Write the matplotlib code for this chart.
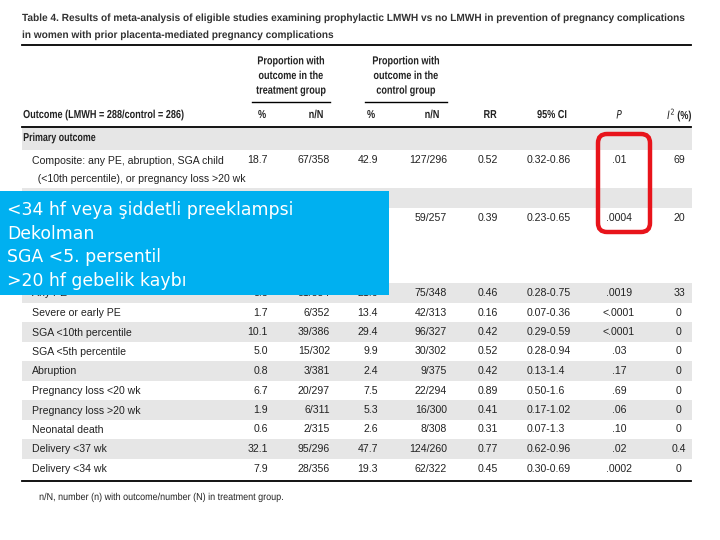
import matplotlib.pyplot as plt
from matplotlib import font_manager, patheffects
from matplotlib.patches import Rectangle, FancyBboxPatch
from matplotlib.transforms import Affine2D

# dar yazı tipi varsa onu kullan
names = {f.name for f in font_manager.fontManager.ttflist}
NARROW = 'Liberation Sans Narrow' if 'Liberation Sans Narrow' in names else 'Liberation Sans'


# yazıyı yatayda sıkıştırır (dar yazı tipi görünümü için)
class Squeeze(patheffects.AbstractPathEffect):
    def __init__(self, sx, anchor='left'):
        super().__init__()
        self.sx = sx
        self.anchor = anchor

    def draw_path(self, renderer, gc, tpath, affine, rgbFace=None):
        ext = tpath.get_extents()
        p = {'left': ext.x0, 'center': (ext.x0 + ext.x1) / 2, 'right': ext.x1}[self.anchor]
        t = Affine2D().translate(-p, 0).scale(self.sx, 1).translate(p, 0) + affine
        renderer.draw_path(gc, tpath, t, rgbFace)


title1 = ("Table 4. Results of meta-analysis of eligible studies examining prophylactic LMWH "
          "vs no LMWH in prevention of pregnancy complications")
title2 = "in women with prior placenta-mediated pregnancy complications"

col_headers = ["%", "n/N", "%", "n/N", "RR", "95% CI", "$P$", "$I^2$ (%)"]

# kutunun tamamen örttüğü hücreler boş bırakıldı
row_labels = [
    "Primary outcome",
    "Composite: any PE, abruption, SGA child\n  (<10th percentile), or pregnancy loss >20 wk",
    "Secondary outcomes",
    "",
    "Any PE",
    "Severe or early PE",
    "SGA <10th percentile",
    "SGA <5th percentile",
    "Abruption",
    "Pregnancy loss <20 wk",
    "Pregnancy loss >20 wk",
    "Neonatal death",
    "Delivery <37 wk",
    "Delivery <34 wk",
]
trt_pct = ["", "18.7", "", "", "8.8", "1.7", "10.1", "5.0", "0.8", "6.7", "1.9", "0.6", "32.1", "7.9"]
trt_nN = ["", "67/358", "", "", "31/354", "6/352", "39/386", "15/302", "3/381", "20/297",
          "6/311", "2/315", "95/296", "28/356"]
ctl_pct = ["", "42.9", "", "", "21.6", "13.4", "29.4", "9.9", "2.4", "7.5", "5.3", "2.6", "47.7", "19.3"]
ctl_nN = ["", "127/296", "", "59/257", "75/348", "42/313", "96/327", "30/302", "9/375", "22/294",
          "16/300", "8/308", "124/260", "62/322"]
rr = ["", "0.52", "", "0.39", "0.46", "0.16", "0.42", "0.52", "0.42", "0.89", "0.41", "0.31", "0.77", "0.45"]
ci = ["", "0.32-0.86", "", "0.23-0.65", "0.28-0.75", "0.07-0.36", "0.29-0.59", "0.28-0.94", "0.13-1.4",
      "0.50-1.6", "0.17-1.02", "0.07-1.3", "0.62-0.96", "0.30-0.69"]
p_val = ["", ".01", "", ".0004", ".0019", "<.0001", "<.0001", ".03", ".17", ".69", ".06", ".10", ".02", ".0002"]
i2 = ["", "69", "", "20", "33", "0", "0", "0", "0", "0", "0", "0", "0.4", "0"]
is_header = [True, False, True, False] + [False] * 10
row_h = [22, 38, 20, 75] + [19.5] * 10

overlay_lines = ["<34 hf veya şiddetli preeklampsi", "Dekolman", "SGA <5. persentil", ">20 hf gebelik kaybı"]
footnote = "n/N, number (n) with outcome/number (N) in treatment group."

TXT = '#222222'
GRAY = '#e6e6e6'

fig = plt.figure(figsize=(7.2, 5.4), dpi=100)
ax = fig.add_axes([0, 0, 1, 1])
ax.set_xlim(0, 720)
ax.set_ylim(540, 0)
ax.axis('off')

fs = 7.6
fb = 8.3
sq_b = 0.79
ax.text(22, 18, title1, fontsize=7.5, fontweight='bold', family=NARROW, color='#333333', va='center',
        path_effects=[Squeeze(0.97)])
ax.text(22, 35, title2, fontsize=7.5, fontweight='bold', family=NARROW, color='#333333', va='center',
        path_effects=[Squeeze(0.97)])
ax.plot([22, 691], [45, 45], color='black', lw=1.3)

# grup başlıkları
for cx, x0, x1, txt in [(291, 252, 330, "Proportion with\noutcome in the\ntreatment group"),
                        (406, 365, 447, "Proportion with\noutcome in the\ncontrol group")]:
    ax.text(cx, 76, txt, fontsize=fb, fontweight='bold', family=NARROW, color=TXT,
            ha='center', va='center', linespacing=1.3, path_effects=[Squeeze(sq_b, 'center')])
    ax.plot([x0, x1], [102, 102], color='black', lw=1)

ax.text(23, 115, "Outcome (LMWH = 288/control = 286)", fontsize=fb, fontweight='bold',
        family=NARROW, color=TXT, va='center', path_effects=[Squeeze(sq_b)])
head_x = [262, 316, 371, 432, 490, 552, 620, 680]
for x, h in zip(head_x, col_headers):
    ax.text(x, 115, h, fontsize=fb, fontweight='bold', family=NARROW, color=TXT,
            ha='center', va='center', path_effects=[Squeeze(sq_b, 'center')])
ax.plot([22, 691], [127, 127], color='black', lw=1.3)

# satırlar
y = 128
cols = [(trt_pct, 268, 'right'), (trt_nN, 330, 'right'), (ctl_pct, 378, 'right'), (ctl_nN, 447, 'right'),
        (rr, 488, 'center'), (ci, 527, 'left'), (p_val, 619, 'center'), (i2, 679, 'center')]
for i, lab in enumerate(row_labels):
    h = row_h[i]
    if i % 2 == 0:
        ax.add_patch(Rectangle((22, y), 670, h, color=GRAY, lw=0, zorder=0))
    ty = y + 10
    if is_header[i]:
        if i == 0:
            ax.text(23, ty, lab, fontsize=fb, fontweight='bold', family=NARROW, color=TXT, va='center',
                    path_effects=[Squeeze(0.77)])
    else:
        if lab:
            ax.text(32, ty - 4.5, lab, fontsize=fs, family=NARROW, color=TXT, va='top', linespacing=2.05)
        for vals, x, ha in cols:
            if vals[i]:
                ax.text(x, ty, vals[i], fontsize=fs, family=NARROW, color=TXT, ha=ha, va='center')
    y += h

ax.plot([22, 691], [481, 481], color='black', lw=1.3)
ax.text(39, 497, footnote, fontsize=fs - 0.4, family=NARROW, color=TXT, va='center',
        path_effects=[Squeeze(0.9)])

# mavi kutu ve kırmızı çerçeve
ax.add_patch(Rectangle((0, 191), 389, 104, color='#00b0f0', lw=0, zorder=5))
for k, line in enumerate(overlay_lines):
    ax.text(7, 210 + k * 23.6, line, fontsize=12.4, family='DejaVu Sans', color='white',
            va='center', zorder=6)
ax.add_patch(FancyBboxPatch((598, 134), 52, 98, boxstyle='round,pad=0,rounding_size=9',
                            fill=False, ec='#e8141b', lw=3.2, zorder=6))

fig.savefig('out.png', dpi=100)
